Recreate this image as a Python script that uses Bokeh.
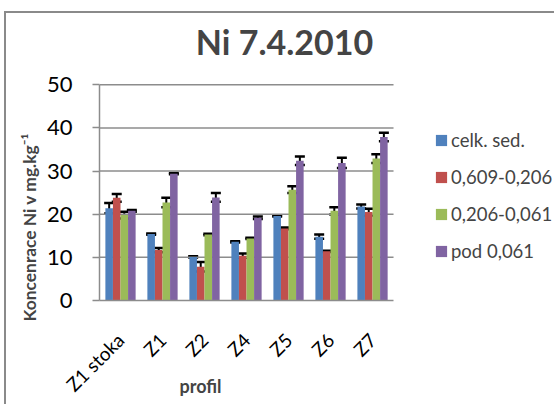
from bokeh.plotting import figure
from bokeh.models import ColumnDataSource, Whisker, TeeHead, Legend, LegendItem, Title, Label, FixedTicker
from bokeh.transform import dodge
from bokeh.embed import file_html
from bokeh.resources import INLINE
import math

categories = ["Z1 stoka", "Z1", "Z2", "Z4", "Z5", "Z6", "Z7"]
series_names = ["celk. sed.", "0,609-0,206", "0,206-0,061", "pod 0,061"]
celk = [21.4, 15.4, 10.1, 13.6, 19.6, 14.8, 21.8]
celk_err = [1.2, 0.15, 0.15, 0.15, 0.15, 0.5, 0.45]
f1 = [23.8, 11.7, 7.8, 10.4, 16.7, 11.4, 20.5]
f1_err = [0.9, 0.5, 1.1, 0.5, 0.2, 0.15, 0.8]
f2 = [19.8, 22.7, 15.3, 14.4, 25.7, 20.8, 32.9]
f2_err = [0.8, 1.1, 0.15, 0.15, 0.8, 0.85, 1.0]
f3 = [20.8, 29.4, 23.9, 19.2, 32.4, 31.9, 37.9]
f3_err = [0.2, 0.15, 1.0, 0.3, 1.0, 1.2, 1.0]
y_ticks = [0, 10, 20, 30, 40, 50]

colors = ["#4F81BD", "#C0504D", "#9BBB59", "#8064A2"]
FONT = "Lato"
GRID = "#8c8c8c"

n = len(categories)
xs = list(range(n))
x_lo, x_hi = -0.5, n - 0.5
# frame extends to the right (legend area) and up (title area)
p = figure(x_range=(x_lo, 10.38), y_range=(0, 66.55),
           width=550, height=393, output_backend="svg", toolbar_location=None,
           min_border_left=93, min_border_right=0, min_border_top=0, min_border_bottom=105)
p.margin = (11, 0, 0, 4)
p.styles = {"border-left": "2px solid #8a8a8a", "border-top": "2px solid #8a8a8a"}
p.outline_line_color = None
p.xgrid.grid_line_color = None
p.ygrid.grid_line_color = None

p.yaxis.ticker = FixedTicker(ticks=y_ticks)
p.yaxis.bounds = (y_ticks[0], y_ticks[-1])
p.yaxis.axis_line_color = GRID
p.yaxis.axis_line_width = 1.5
p.yaxis.major_tick_line_color = GRID
p.yaxis.major_tick_line_width = 1.5
p.yaxis.major_tick_out = 7
p.yaxis.major_tick_in = 0
p.yaxis.minor_tick_line_color = None
p.yaxis.major_label_text_font = FONT
p.yaxis.major_label_text_font_size = "22px"
p.yaxis.major_label_text_color = "black"
p.yaxis.major_label_standoff = 20

p.xaxis.ticker = FixedTicker(ticks=xs)
p.xaxis.bounds = (x_lo, x_hi)
p.xaxis.major_label_overrides = {i: c for i, c in zip(xs, categories)}
p.xaxis.axis_line_color = GRID
p.xaxis.axis_line_width = 1.5
p.xaxis.major_tick_line_color = None
p.xaxis.minor_tick_line_color = None
p.xaxis.major_label_orientation = math.pi / 4
p.xaxis.major_label_text_font = FONT
p.xaxis.major_label_text_font_size = "19px"
p.xaxis.major_label_text_color = "black"
p.xaxis.major_label_standoff = 30

# horizontal gridlines limited to the category area
grid_y = y_ticks[1:]
p.segment(x0=[x_lo] * len(grid_y), x1=[x_hi] * len(grid_y), y0=grid_y, y1=grid_y,
          line_color=GRID, line_width=1.5)

data = dict(x=xs, s0=celk, s1=f1, s2=f2, s3=f3)
errs = [celk_err, f1_err, f2_err, f3_err]
vals = [celk, f1, f2, f3]
for i in range(4):
    data[f"u{i}"] = [v + e for v, e in zip(vals[i], errs[i])]
    data[f"l{i}"] = [v - e for v, e in zip(vals[i], errs[i])]
src = ColumnDataSource(data)

offsets = [-0.27, -0.09, 0.09, 0.27]
renderers = []
for i in range(4):
    r = p.vbar(x=dodge("x", offsets[i]), top=f"s{i}", width=0.18,
               source=src, fill_color=colors[i], line_color=None)
    renderers.append(r)
for i in range(4):
    w = Whisker(base=dodge("x", offsets[i]), upper=f"u{i}", lower=f"l{i}",
                source=src, line_color="black", line_width=2,
                upper_head=TeeHead(size=10, line_width=2.5, line_color="black"),
                lower_head=TeeHead(size=10, line_width=2.5, line_color="black"))
    p.add_layout(w)

legend = Legend(items=[LegendItem(label=series_names[i], renderers=[renderers[i]]) for i in range(4)],
                location=(335, 38), glyph_width=14, glyph_height=14, label_standoff=3,
                label_height=22, spacing=15, padding=0, margin=0,
                label_text_font=FONT, label_text_font_size="18.5px",
                border_line_color=None, background_fill_alpha=0)
p.add_layout(legend)

p.add_layout(Label(x=185, y=259, x_units="screen", y_units="screen", text="Ni 7.4.2010",
                   text_font=FONT, text_font_style="bold", text_font_size="34px",
                   text_align="center", text_baseline="middle"))

p.add_layout(Title(text="profil", align="left", vertical_align="top", offset=80, standoff=-64,
                   text_font=FONT, text_font_style="bold", text_font_size="18px"), "below")
p.add_layout(Title(text="Koncenrace Ni v mg.kg⁻¹", align="left", offset=-21, standoff=8,
                   text_font=FONT, text_font_style="bold", text_font_size="17.4px"), "left")

open("out.html", "w").write(file_html(p, INLINE))
